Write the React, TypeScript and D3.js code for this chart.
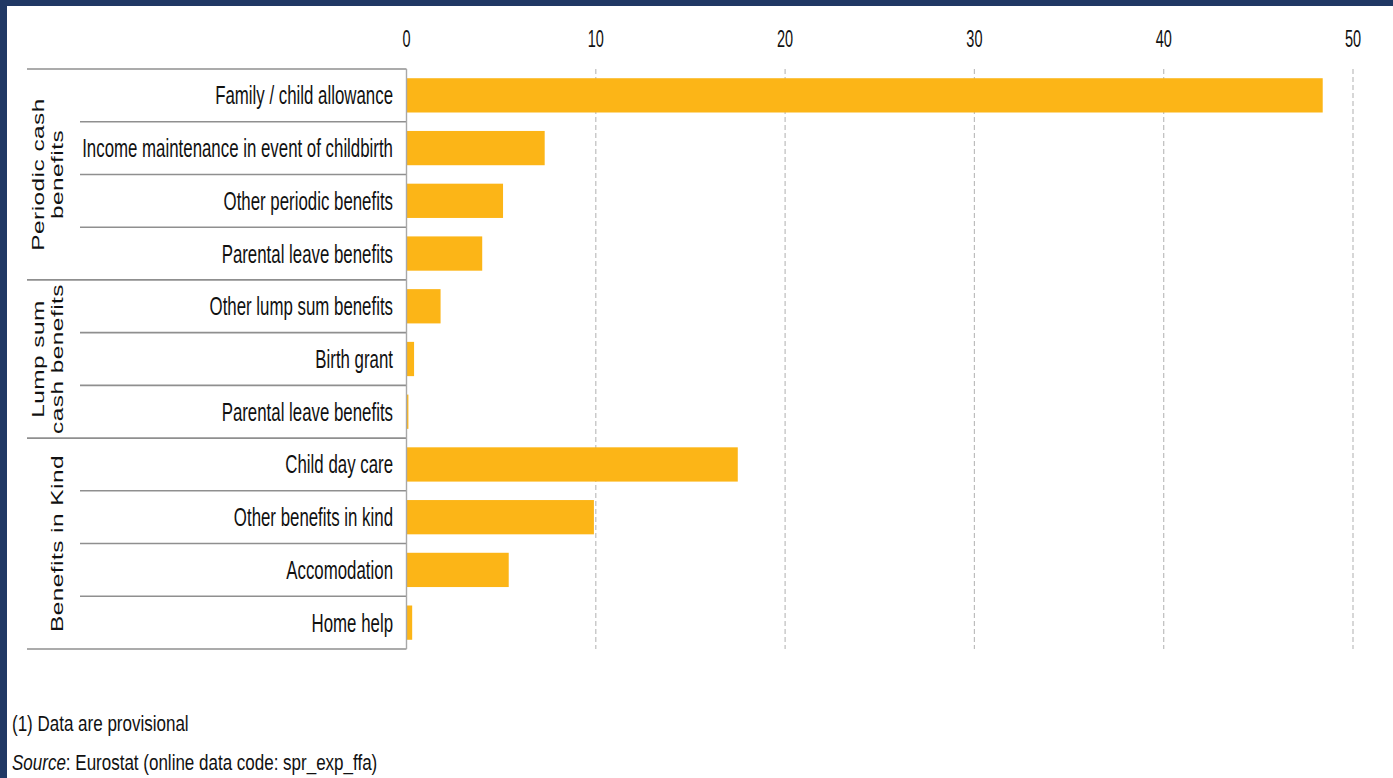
import React from "react";
import * as d3 from "d3";

const categories = [
  "Family / child allowance",
  "Income maintenance in event of childbirth",
  "Other periodic benefits",
  "Parental leave benefits",
  "Other lump sum benefits",
  "Birth grant",
  "Parental leave benefits",
  "Child day care",
  "Other benefits in kind",
  "Accomodation",
  "Home help",
];
const values = [48.4, 7.3, 5.1, 4.0, 1.8, 0.4, 0.1, 17.5, 9.9, 5.4, 0.3];
const groupLabels = [["Periodic cash", "benefits"], ["Lump sum", "cash benefits"], ["Benefits in Kind"]];
const groupSizes = [4, 3, 4];
const tickValues = [0, 10, 20, 30, 40, 50];
const footnote = "(1) Data are provisional";
const sourceLabel = "Source";
const sourceText = ": Eurostat (online data code: spr_exp_ffa)";

const W = 1393;
const H = 778;
const NAVY = "#203864";
const BAR = "#fcb517";
const FONT = "'Liberation Sans', Arial, sans-serif";

export default function App() {
  const keys = categories.map((_, i) => String(i));
  const x = d3.scaleLinear().domain([0, 50]).range([406.5, 1353]);
  const rows = d3.scaleBand<string>().domain(keys).range([69, 649]);
  const bars = d3.scaleBand<string>().domain(keys).range([69, 649]).paddingInner(0.35).paddingOuter(0.175);

  // group boundaries (indices where a group starts)
  const starts: number[] = [];
  let acc = 0;
  groupSizes.forEach((s) => {
    starts.push(acc);
    acc += s;
  });

  const groupBoundaryIdx = new Set(starts.slice(1).map((s) => s - 1));

  return (
    <div style={{ position: "absolute", left: 0, top: 0, width: W, height: H }}>
      <svg width={W} height={H} style={{ display: "block", background: "#fff" }}>
        <rect x={0} y={0} width={W} height={6} fill={NAVY} />
        <rect x={0} y={0} width={7} height={H} fill={NAVY} />

        {/* gridlines */}
        {tickValues.slice(1).map((t) => (
          <line
            key={"g" + t}
            x1={x(t)}
            x2={x(t)}
            y1={69}
            y2={649}
            stroke="#bdbdbd"
            strokeWidth={1.2}
            strokeDasharray="5,3"
          />
        ))}

        {/* tick labels */}
        {tickValues.map((t) => (
          <text
            key={"t" + t}
            transform={`translate(${x(t)},46.5) scale(1,1.7)`}
            textAnchor="middle"
            fontFamily={FONT}
            fontSize={14.5}
            fill="#111"
          >
            {t}
          </text>
        ))}

        {/* bars */}
        {values.map((v, i) => (
          <rect
            key={"b" + i}
            x={x(0)}
            y={bars(keys[i])!}
            width={x(v) - x(0)}
            height={bars.bandwidth()}
            fill={BAR}
          />
        ))}

        {/* top line */}
        <line x1={27} x2={406.5} y1={69} y2={69} stroke="#8f8f8f" strokeWidth={1.6} />
        {/* row separators */}
        {keys.map((k, i) => {
          const yy = rows(k)! + rows.bandwidth();
          const isGroup = groupBoundaryIdx.has(i) || i === keys.length - 1;
          return (
            <line
              key={"s" + i}
              x1={isGroup ? 27 : 80}
              x2={406.5}
              y1={yy}
              y2={yy}
              stroke="#8f8f8f"
              strokeWidth={1.6}
            />
          );
        })}
        {/* vertical axis line */}
        <line x1={406.5} x2={406.5} y1={69} y2={649} stroke="#a8a8a8" strokeWidth={1.4} />

        {/* category labels */}
        {categories.map((c, i) => (
          <text
            key={"c" + i}
            transform={`translate(393,${rows(keys[i])! + rows.bandwidth() / 2}) scale(1,1.5)`}
            y={6}
            textAnchor="end"
            fontFamily={FONT}
            fontSize={16.85}
            fill="#111"
          >
            {c}
          </text>
        ))}

        {/* group labels */}
        {groupLabels.map((lines, gi) => {
          const first = starts[gi];
          const last = first + groupSizes[gi] - 1;
          const cy = (rows(keys[first])! + rows(keys[last])! + rows.bandwidth()) / 2;
          const baseXs = lines.length === 2 ? [43.5, 62.7] : [62.7];
          return lines.map((ln, li) => (
            <text
              key={"gl" + gi + "_" + li}
              transform={`translate(${baseXs[li]},${cy}) scale(1,1.5) rotate(-90)`}
              textAnchor="middle"
              fontFamily={FONT}
              fontSize={16.3}
              letterSpacing={0.3}
              fill="#111"
            >
              {ln}
            </text>
          ));
        })}

        {/* footnotes */}
        <text transform="translate(12,731) scale(1,1.25)" fontFamily={FONT} fontSize={17} fill="#111">
          {footnote}
        </text>
        <text transform="translate(12,770) scale(1,1.25)" fontFamily={FONT} fontSize={17} fill="#111">
          <tspan fontStyle="italic">{sourceLabel}</tspan>
          <tspan>{sourceText}</tspan>
        </text>
      </svg>
    </div>
  );
}
